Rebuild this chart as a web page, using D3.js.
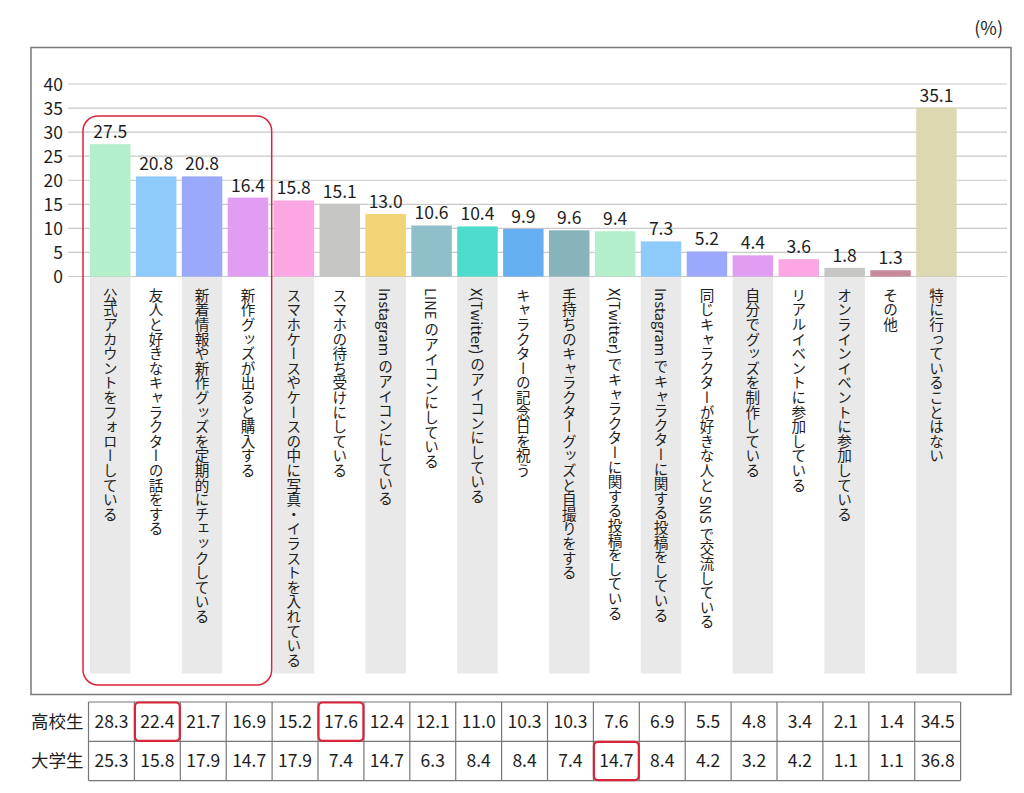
<!DOCTYPE html>
<html><head><meta charset="utf-8">
<script src="https://cdn.jsdelivr.net/npm/d3@7"></script>
<style>
html,body{margin:0;padding:0;background:#fff;}
svg text{font-family:"Noto Sans CJK JP","Noto Sans",sans-serif;fill:#1e1e1e;}
</style></head>
<body>
<svg id="chart" width="1024" height="793"></svg>
<script>
const categories = [
  "公式アカウントをフォローしている",
  "友人と好きなキャラクターの話をする",
  "新着情報や新作グッズを定期的にチェックしている",
  "新作グッズが出ると購入する",
  "スマホケースやケースの中に写真・イラストを入れている",
  "スマホの待ち受けにしている",
  "Instagram のアイコンにしている",
  "LINE のアイコンにしている",
  "X(Twitter) のアイコンにしている",
  "キャラクターの記念日を祝う",
  "手持ちのキャラクターグッズと自撮りをする",
  "X(Twitter) でキャラクターに関する投稿をしている",
  "Instagram でキャラクターに関する投稿をしている",
  "同じキャラクターが好きな人と SNS で交流している",
  "自分でグッズを制作している",
  "リアルイベントに参加している",
  "オンラインイベントに参加している",
  "その他",
  "特に行っていることはない"
];
const totalValues = [27.5,20.8,20.8,16.4,15.8,15.1,13.0,10.6,10.4,9.9,9.6,9.4,7.3,5.2,4.4,3.6,1.8,1.3,35.1];
const highSchool = [28.3,22.4,21.7,16.9,15.2,17.6,12.4,12.1,11.0,10.3,10.3,7.6,6.9,5.5,4.8,3.4,2.1,1.4,34.5];
const university = [25.3,15.8,17.9,14.7,17.9,7.4,14.7,6.3,8.4,8.4,7.4,14.7,8.4,4.2,3.2,4.2,1.1,1.1,36.8];
const rowLabels = ["高校生","大学生"];
const yTicks = [0,5,10,15,20,25,30,35,40];
const barColors = ["#b3efcb","#8ecbfc","#9aa9fb","#e09df1","#fba7e3","#c6c7c4","#f0d476","#8fbfc9","#4ddccb","#64aef1","#87b3bb","#b3efcb","#8ecbfc","#9aa9fb","#e09df1","#fba7e3","#c6c7c4","#c88a9b","#dcd8b2"];
const highlightTable = [[0,1],[0,5],[1,11]]; // [row, column]
const highlightGroup = [0,3]; // first and last category in the framed group

const svg = d3.select("#chart");
const red = "#d9253a";

const x = d3.scaleBand().domain(d3.range(categories.length)).range([87.3, 959.4]).paddingInner(0.118).paddingOuter(0.059);
const y = d3.scaleLinear().domain([0,40]).range([276.5, 84]);

// outer frame
svg.append("rect").attr("x",31).attr("y",47.5).attr("width",980).attr("height",647)
  .attr("fill","none").attr("stroke","#7a7a7a").attr("stroke-width",1.5);

// unit
svg.append("text").attr("x",1003).attr("y",35).attr("text-anchor","end").attr("font-size",18).text("(%)");

// grid
svg.append("g").selectAll("line").data(yTicks).join("line")
  .attr("x1",68).attr("x2",1007).attr("y1",d=>y(d)).attr("y2",d=>y(d))
  .attr("stroke","#c9c9c9").attr("stroke-width",1.2);

// y axis labels
const yAxis = d3.axisLeft(y).tickValues(yTicks).tickSize(0).tickPadding(0);
const ya = svg.append("g").attr("transform","translate(63,0)").call(yAxis);
ya.select(".domain").remove();
ya.selectAll("text").attr("font-size",17.5).attr("fill","#1e1e1e").attr("dy","0.35em")
  .style("font-family",'"Noto Sans CJK JP","Noto Sans",sans-serif');

// label backgrounds
svg.append("g").selectAll("rect").data(d3.range(categories.length).filter(i=>i%2===0)).join("rect")
  .attr("x",i=>x(i)).attr("width",x.bandwidth()).attr("y",y(0)+0.5).attr("height",673-y(0))
  .attr("fill","#e9e9e9");

// bars
svg.append("g").selectAll("rect").data(totalValues).join("rect")
  .attr("x",(d,i)=>x(i)).attr("width",x.bandwidth())
  .attr("y",d=>y(d)).attr("height",d=>y(0)-y(d))
  .attr("fill",(d,i)=>barColors[i]);

// value labels
svg.append("g").selectAll("text").data(totalValues).join("text")
  .attr("x",(d,i)=>x(i)+x.bandwidth()/2).attr("y",d=>y(d)-6)
  .attr("text-anchor","middle").attr("font-size",17.5)
  .text(d=>d.toFixed(1));

// vertical category labels
svg.append("g").selectAll("text").data(categories).join("text")
  .attr("x",(d,i)=>x(i)+x.bandwidth()/2).attr("y",288)
  .attr("font-size",14.6)
  .style("writing-mode","vertical-rl")
  .style("text-orientation","mixed")
  .text(d=>d);

// red frame around group
const gx0 = x(highlightGroup[0]) - 7, gx1 = x(highlightGroup[1]) + x.bandwidth() + 3.5;
svg.append("rect").attr("x",gx0).attr("y",116).attr("width",gx1-gx0).attr("height",569)
  .attr("rx",15).attr("fill","none").attr("stroke",red).attr("stroke-width",1.5);

// table
const tTop = 702, rowH = 39.3;
const colX = i => x(i) - 1.5;
const tbl = svg.append("g");
const rows = [highSchool, university];
rows.forEach((vals, r) => {
  tbl.append("text").attr("x",31).attr("y",tTop + rowH*r + rowH/2).attr("dy","0.36em")
    .attr("font-size",17.5).text(rowLabels[r]);
  tbl.append("g").selectAll("text").data(vals).join("text")
    .attr("x",(d,i)=>colX(i)+x.step()/2).attr("y",tTop + rowH*r + rowH/2).attr("dy","0.36em")
    .attr("text-anchor","middle").attr("font-size",17.5).text(d=>d.toFixed(1));
});
const tLeft = colX(0), tRight = colX(categories.length-1)+x.step();
// horizontal lines
tbl.append("g").selectAll("line").data([0,1,2]).join("line")
  .attr("x1",tLeft).attr("x2",tRight).attr("y1",r=>tTop+rowH*r).attr("y2",r=>tTop+rowH*r)
  .attr("stroke","#777").attr("stroke-width",1.2);
// vertical lines
tbl.append("g").selectAll("line").data(d3.range(categories.length+1)).join("line")
  .attr("x1",i=>i<categories.length?colX(i):tRight).attr("x2",i=>i<categories.length?colX(i):tRight)
  .attr("y1",tTop).attr("y2",tTop+rowH*2)
  .attr("stroke","#777").attr("stroke-width",1.2);
// highlighted cells
tbl.append("g").selectAll("rect").data(highlightTable).join("rect")
  .attr("x",d=>colX(d[1])+0.5).attr("y",d=>tTop+rowH*d[0]+0.5)
  .attr("width",x.step()-1).attr("height",rowH-1).attr("rx",4)
  .attr("fill","none").attr("stroke",red).attr("stroke-width",2.2);
</script>
</body></html>
